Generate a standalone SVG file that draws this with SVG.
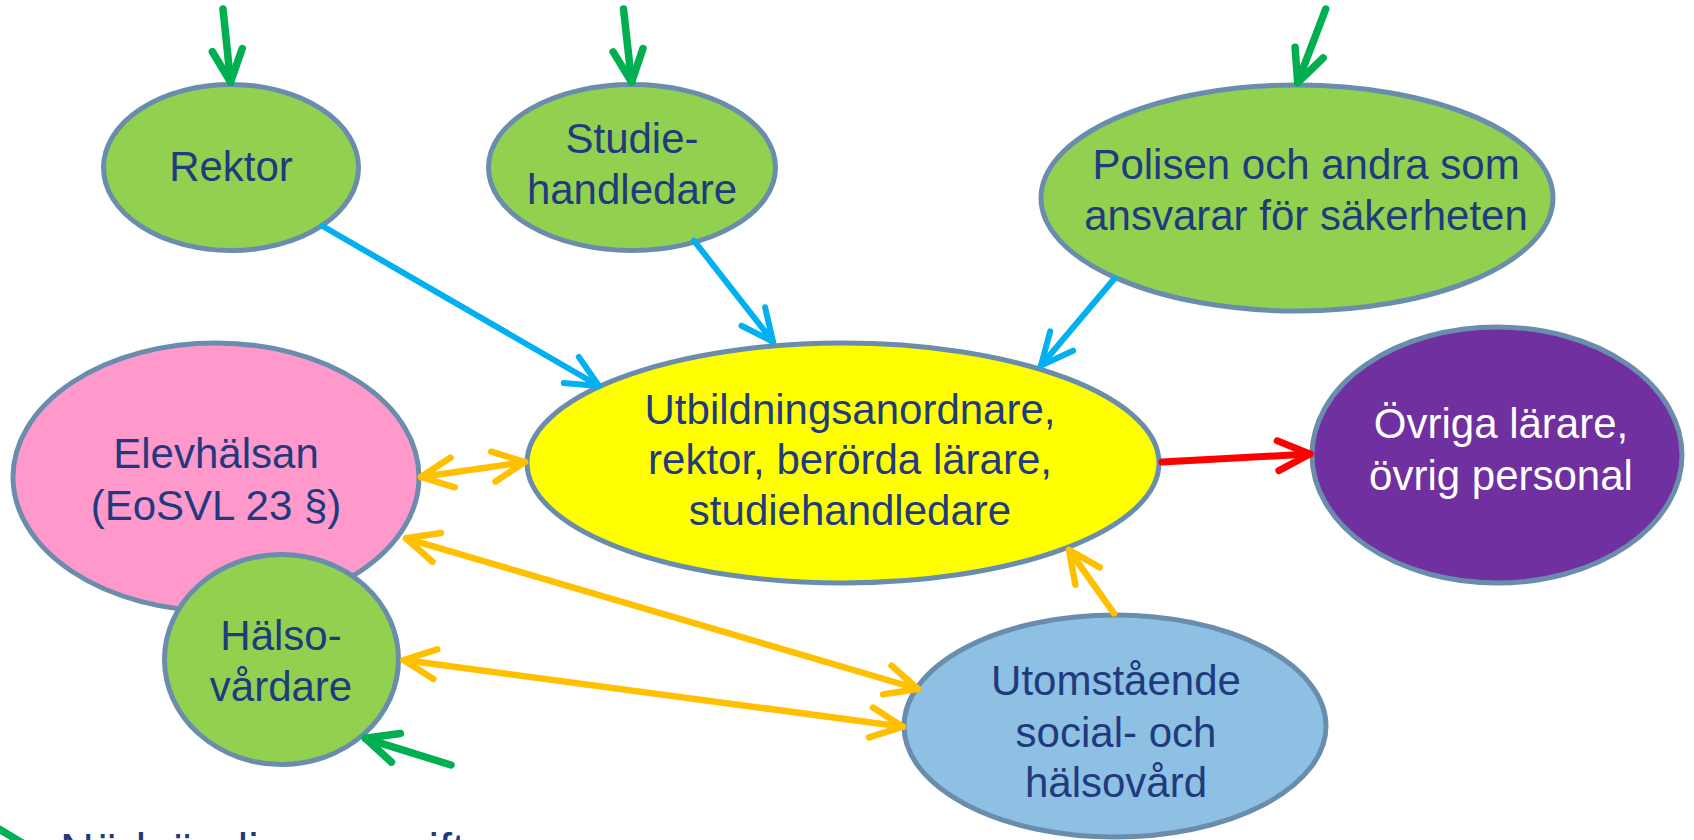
<svg xmlns="http://www.w3.org/2000/svg" width="1694" height="840" viewBox="0 0 1694 840">
  <style>
    .node { stroke: #6A8DAD; stroke-width: 5; }
    .green { fill: #92D050; }
    .pink { fill: #FF99CC; }
    .yellow { fill: #FFFF00; }
    .purple { fill: #7030A0; }
    .lblue { fill: #8DC0E3; }
    .lbl { font-family: "Liberation Sans", Arial, sans-serif; font-size: 42px; fill: #1F3B7D; text-anchor: middle; }
    .white { fill: #FFFFFF; }
    .conn { fill: none; stroke-linecap: round; }
    .cg { stroke: #00B050; stroke-width: 7.5; }
    .cb { stroke: #00B0F0; stroke-width: 6; }
    .co { stroke: #FFC000; stroke-width: 6.5; }
    .cr { stroke: #FF0000; stroke-width: 7; }
  </style>
  <defs>
    <marker id="ahG" markerUnits="userSpaceOnUse" orient="auto-start-reverse" refX="0" refY="0" markerWidth="1" markerHeight="1" overflow="visible">
      <path d="M-32,-15 L0,0 L-32,15" fill="none" stroke="#00B050" stroke-width="7.5" stroke-linecap="round" stroke-linejoin="round"/>
    </marker>
    <marker id="ahB" markerUnits="userSpaceOnUse" orient="auto-start-reverse" refX="0" refY="0" markerWidth="1" markerHeight="1" overflow="visible">
      <path d="M-32,-15 L0,0 L-32,15" fill="none" stroke="#00B0F0" stroke-width="6" stroke-linecap="round" stroke-linejoin="round"/>
    </marker>
    <marker id="ahO" markerUnits="userSpaceOnUse" orient="auto-start-reverse" refX="0" refY="0" markerWidth="1" markerHeight="1" overflow="visible">
      <path d="M-32,-15 L0,0 L-32,15" fill="none" stroke="#FFC000" stroke-width="6.5" stroke-linecap="round" stroke-linejoin="round"/>
    </marker>
    <marker id="ahR" markerUnits="userSpaceOnUse" orient="auto-start-reverse" refX="0" refY="0" markerWidth="1" markerHeight="1" overflow="visible">
      <path d="M-32,-15 L0,0 L-32,15" fill="none" stroke="#FF0000" stroke-width="7" stroke-linecap="round" stroke-linejoin="round"/>
    </marker>
  </defs>
  <rect x="0" y="0" width="1694" height="840" fill="#FFFFFF"/>

  <g id="nodes">
    <g id="rektor">
      <ellipse class="node green" cx="231" cy="167.5" rx="127.5" ry="83"/>
      <text class="lbl" x="231" y="181">Rektor</text>
    </g>
    <g id="studiehandledare">
      <ellipse class="node green" cx="632" cy="167.5" rx="143.5" ry="83"/>
      <text class="lbl" x="632" y="153">Studie-</text>
      <text class="lbl" x="632" y="203.5">handledare</text>
    </g>
    <g id="polisen">
      <ellipse class="node green" cx="1297" cy="198" rx="256" ry="113"/>
      <text class="lbl" x="1306" y="178.5">Polisen och andra som</text>
      <text class="lbl" x="1306" y="230">ansvarar för säkerheten</text>
    </g>
    <g id="elevhalsan">
      <ellipse class="node pink" cx="216" cy="477" rx="203" ry="134"/>
      <text class="lbl" x="216" y="468">Elevhälsan</text>
      <text class="lbl" x="216" y="520">(EoSVL 23 §)</text>
    </g>
    <g id="halsovardare">
      <ellipse class="node green" cx="281.5" cy="659.5" rx="117" ry="105"/>
      <text class="lbl" x="281" y="650">Hälso-</text>
      <text class="lbl" x="281" y="701">vårdare</text>
    </g>
    <g id="utbildningsanordnare">
      <ellipse class="node yellow" cx="843" cy="463" rx="316" ry="120"/>
      <text class="lbl" x="850" y="423.5">Utbildningsanordnare,</text>
      <text class="lbl" x="850" y="473.5">rektor, berörda lärare,</text>
      <text class="lbl" x="850" y="525">studiehandledare</text>
    </g>
    <g id="ovriga">
      <ellipse class="node purple" cx="1497" cy="455" rx="185" ry="128"/>
      <text class="lbl white" x="1501" y="437.5">Övriga lärare,</text>
      <text class="lbl white" x="1501" y="489.5">övrig personal</text>
    </g>
    <g id="utomstaende">
      <ellipse class="node lblue" cx="1115" cy="726" rx="211" ry="111"/>
      <text class="lbl" x="1116" y="695">Utomstående</text>
      <text class="lbl" x="1116" y="746.5">social- och</text>
      <text class="lbl" x="1116" y="796.5">hälsovård</text>
    </g>
  </g>

  <g id="connectors">
    <line class="conn cg" x1="223" y1="9" x2="230.6" y2="82" marker-end="url(#ahG)"/>
    <line class="conn cg" x1="623.5" y1="9" x2="631.6" y2="82" marker-end="url(#ahG)"/>
    <line class="conn cg" x1="1325.7" y1="9" x2="1297.7" y2="82.5" marker-end="url(#ahG)"/>
    <line class="conn cg" x1="451" y1="765" x2="365.3" y2="738.3" marker-end="url(#ahG)"/>
    <line class="conn cb" x1="322.4" y1="226" x2="599" y2="386" marker-end="url(#ahB)"/>
    <line class="conn cb" x1="694" y1="240.7" x2="773" y2="341.7" marker-end="url(#ahB)"/>
    <line class="conn cb" x1="1114.7" y1="278.3" x2="1041" y2="365.5" marker-end="url(#ahB)"/>
    <line class="conn co" x1="421" y1="477" x2="525" y2="462" marker-start="url(#ahO)" marker-end="url(#ahO)"/>
    <line class="conn co" x1="406" y1="538.3" x2="918" y2="689" marker-start="url(#ahO)" marker-end="url(#ahO)"/>
    <line class="conn co" x1="403.6" y1="660" x2="902.8" y2="726.7" marker-start="url(#ahO)" marker-end="url(#ahO)"/>
    <line class="conn co" x1="1114" y1="613.3" x2="1069" y2="550" marker-end="url(#ahO)"/>
    <line class="conn cr" x1="1162" y1="462" x2="1310" y2="454" marker-end="url(#ahR)"/>
  </g>

  <g id="legend">
    <path class="conn cg" d="M-6,826 L34,850"/>
    <text x="60" y="866" font-family="Liberation Sans, Arial, sans-serif" font-size="47" fill="#1F3B7D">Nödvändiga uppgifter</text>
  </g>
</svg>
